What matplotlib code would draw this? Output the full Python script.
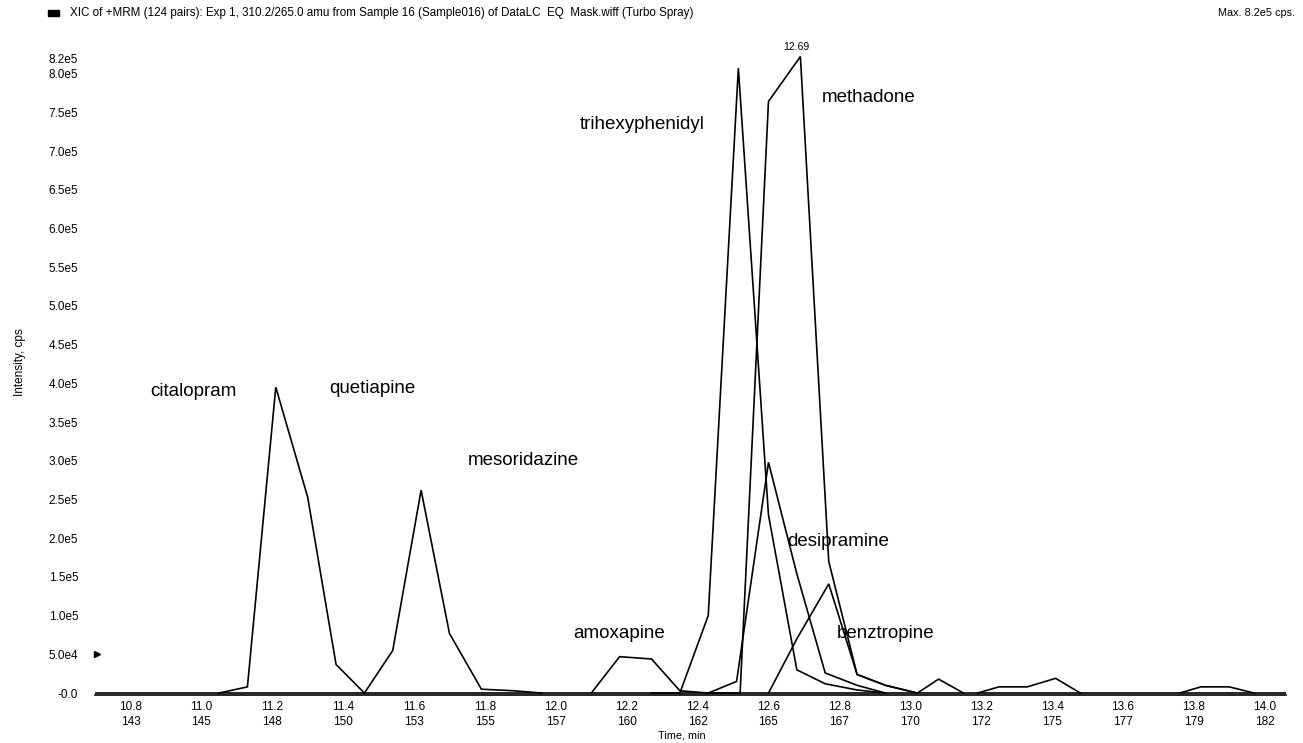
import numpy as np
import matplotlib.pyplot as plt

plt.rcParams['font.family'] = ['Liberation Sans', 'DejaVu Sans']

# retention time (min) and intensity (cps) of each MRM trace
t_citalopram = [11.05, 11.13, 11.21, 11.30, 11.38, 11.46]
i_citalopram = [0, 8e3, 3.95e5, 2.53e5, 3.7e4, 0]

t_mesoridazine = [11.46, 11.54, 11.62, 11.70, 11.79, 11.88, 11.96]
i_mesoridazine = [0, 5.5e4, 2.62e5, 7.7e4, 5e3, 3e3, 0]

t_amoxapine = [12.10, 12.18, 12.27, 12.35, 12.43]
i_amoxapine = [0, 4.7e4, 4.4e4, 3e3, 0]

t_trihex = [12.27, 12.35, 12.43, 12.515, 12.60, 12.68, 12.76, 12.85, 12.93]
i_trihex = [0, 0, 1.0e5, 8.07e5, 2.3e5, 3.0e4, 1.2e4, 4e3, 0]

t_methadone = [12.43, 12.52, 12.60, 12.69, 12.77, 12.85, 12.93, 13.02]
i_methadone = [0, 0, 7.64e5, 8.22e5, 1.7e5, 2.4e4, 1e4, 0]

t_desipramine = [12.43, 12.51, 12.60, 12.68, 12.76, 12.85, 12.93]
i_desipramine = [0, 1.5e4, 2.98e5, 1.54e5, 2.6e4, 1e4, 0]

t_benztropine = [12.60, 12.68, 12.77, 12.85, 12.93, 13.02]
i_benztropine = [0, 7.0e4, 1.41e5, 2.4e4, 1e4, 0]

t_minor1 = [13.02, 13.08, 13.15]
i_minor1 = [0, 1.8e4, 0]
t_minor2 = [13.19, 13.25, 13.33, 13.41, 13.48]
i_minor2 = [0, 8e3, 8e3, 1.9e4, 0]
t_minor3 = [13.76, 13.82, 13.90, 13.97]
i_minor3 = [0, 8e3, 8e3, 0]

baseline_t = [10.70, 14.06]
baseline_i = [0, 0]

time_ticks = [10.8, 11.0, 11.2, 11.4, 11.6, 11.8, 12.0, 12.2, 12.4, 12.6, 12.8,
              13.0, 13.2, 13.4, 13.6, 13.8, 14.0]
scan_numbers = [143, 145, 148, 150, 153, 155, 157, 160, 162, 165, 167,
                170, 172, 175, 177, 179, 182]
int_ticks = [0, 5e4, 1e5, 1.5e5, 2e5, 2.5e5, 3e5, 3.5e5, 4e5, 4.5e5, 5e5,
             5.5e5, 6e5, 6.5e5, 7e5, 7.5e5, 8e5, 8.2e5]
int_labels = ['-0.0', '5.0e4', '1.0e5', '1.5e5', '2.0e5', '2.5e5', '3.0e5',
              '3.5e5', '4.0e5', '4.5e5', '5.0e5', '5.5e5', '6.0e5', '6.5e5',
              '7.0e5', '7.5e5', '8.0e5', '8.2e5']

# compound names and where they are written (time, intensity)
names = ['citalopram', 'quetiapine', 'mesoridazine', 'amoxapine',
         'trihexyphenidyl', 'methadone', 'desipramine', 'benztropine']
name_t = [10.856, 11.36, 11.752, 12.048, 12.068, 12.749, 12.654, 12.794]
name_i = [3.89e5, 3.93e5, 3.0e5, 7.75e4, 7.34e5, 7.69e5, 1.96e5, 7.75e4]

W, H = 1303, 743
fig = plt.figure(figsize=(W / 100, H / 100), dpi=100)
ax = fig.add_axes([95 / W, 1 - 695 / H, (1286 - 95) / W, (695 - 55) / H])

traces = [(t_citalopram, i_citalopram), (t_mesoridazine, i_mesoridazine),
          (t_amoxapine, i_amoxapine), (t_trihex, i_trihex),
          (t_methadone, i_methadone), (t_desipramine, i_desipramine),
          (t_benztropine, i_benztropine), (t_minor1, i_minor1),
          (t_minor2, i_minor2), (t_minor3, i_minor3), (baseline_t, baseline_i)]
for tt, ii in traces:
    ax.plot(tt, ii, color='black', lw=1.2, solid_joinstyle='miter')

ax.set_xlim(10.70, 14.06)
ax.set_ylim(-2500, 8.24e5)

for s in ['top', 'right', 'left']:
    ax.spines[s].set_visible(False)
ax.spines['bottom'].set_linewidth(1.2)

ax.set_xticks(time_ticks)
ax.set_xticklabels([f'{t:.1f}\n{n}' for t, n in zip(time_ticks, scan_numbers)],
                   fontsize=8.5, linespacing=1.35)
ax.set_yticks(int_ticks)
ax.set_yticklabels(int_labels, fontsize=8.5)
ax.tick_params(axis='x', length=0, pad=4)
ax.tick_params(axis='y', length=0, pad=12)

for name, tx, iy in zip(names, name_t, name_i):
    ax.text(tx, iy, name, fontsize=13.5, ha='left', va='center')

# apex label of the tallest peak
k = int(np.argmax(i_methadone))
ax.annotate(f'{t_methadone[k]:.2f}', (t_methadone[k], i_methadone[k]),
            xytext=(-3, 3), textcoords='offset points',
            ha='center', va='bottom', fontsize=7.5)

# marker next to the 5.0e4 label
ax.plot([10.705], [5e4], marker='>', color='black', ms=4, clip_on=False)

fig.patches.append(plt.Rectangle((48 / W, 1 - 16 / H), 11 / W, 6 / H,
                                 transform=fig.transFigure, color='black'))
fig.text(70 / W, 1 - 13 / H,
         'XIC of +MRM (124 pairs): Exp 1, 310.2/265.0 amu from Sample 16 '
         '(Sample016) of DataLC  EQ  Mask.wiff (Turbo Spray)',
         fontsize=8.4, va='center', ha='left')
fig.text(1295 / W, 1 - 13 / H, 'Max. 8.2e5 cps.', fontsize=7.8,
         va='center', ha='right')
fig.text(20 / W, 1 - 362 / H, 'Intensity, cps', fontsize=8.5, rotation=90,
         va='center', ha='center')
fig.text(682 / W, 1 - 735 / H, 'Time, min', fontsize=7.8,
         va='center', ha='center')

fig.savefig('out.png', dpi=100)
